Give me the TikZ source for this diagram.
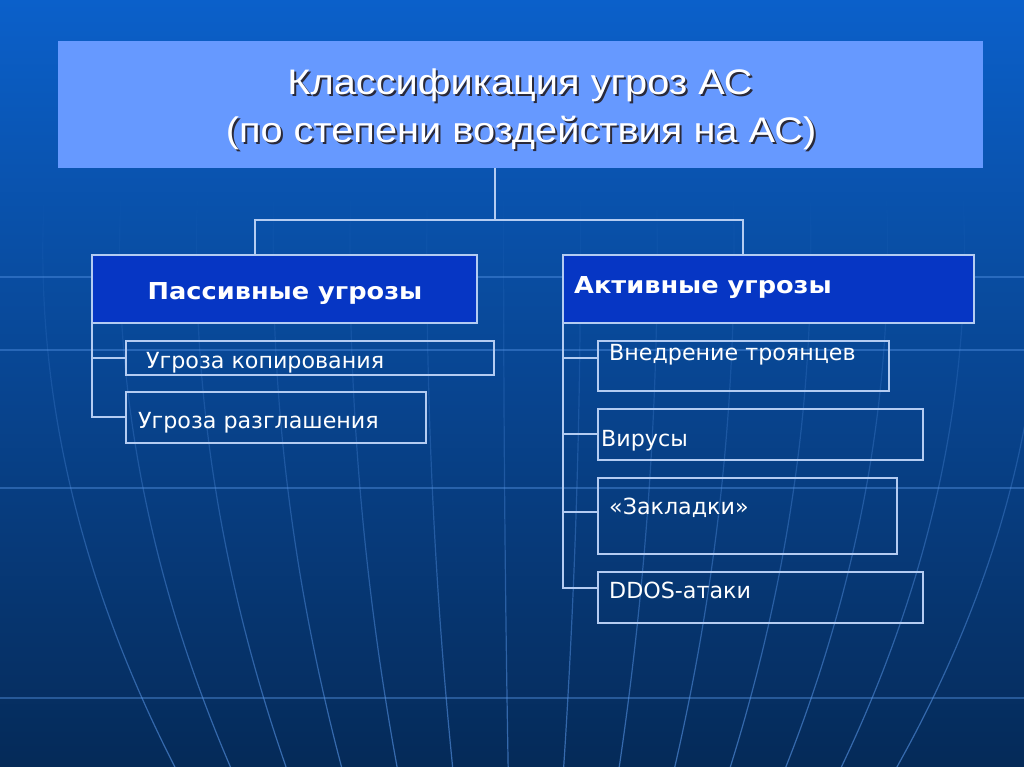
\documentclass[tikz,border=0pt]{standalone}
\usepackage{fontspec}
\setmainfont{Liberation Sans}
\newfontfamily\itemfont{DejaVu Sans}
\usetikzlibrary{fadings}
\definecolor{bgtop}{HTML}{0B60CA}
\definecolor{bgmid}{HTML}{0A4CA4}
\definecolor{bgbot}{HTML}{052A58}
\definecolor{titlefill}{HTML}{6699FF}
\definecolor{headfill}{HTML}{0636C4}
\definecolor{edgec}{HTML}{B4CCF2}
\definecolor{gridc}{HTML}{5A98EA}
\definecolor{shadowc}{HTML}{2A2A3A}
\newcommand{\wide}[1]{\scalebox{1.12}[1]{#1}}
\newcommand{\hwide}[1]{\scalebox{1.1}[1]{#1}}
\begin{document}
\begin{tikzpicture}[x=1pt,y=-1pt,
  box/.style={draw=edgec, line width=1.3pt, anchor=north west, inner sep=0pt, outer sep=0pt},
  conn/.style={draw=edgec, line width=1.3pt},
  gridline/.style={draw=gridc, line width=1.2pt, opacity=0.6},
  titletext/.style={text=white, inner sep=0pt, font=\fontsize{35.5}{42}\selectfont},
  titleshadow/.style={text=shadowc, inner sep=0pt, font=\fontsize{35.5}{42}\selectfont},
  headtext/.style={text=white, inner sep=0pt, font=\itemfont\bfseries\fontsize{23.3}{28}\selectfont},
  itemtext/.style={text=white, inner sep=0pt, anchor=base west, font=\itemfont\fontsize{22.2}{26}\selectfont}]
\useasboundingbox (0,0) rectangle (1024,767);
\shade[top color=bgtop, middle color=bgmid, bottom color=bgbot] (0,0) rectangle (1024,767);
% background grid
\foreach \yy in {277,350,488,698} {\draw[gridline, opacity=0.4] (0,\yy) -- (1024,\yy);}
\foreach \k in {0,...,13} {
  \pgfmathsetmacro{\dd}{-466+75*\k}
  \draw[gridline, path fading=north] plot[domain=190:767, samples=25, variable=\yv, smooth]
     ({520 + 1.024*\dd*(1-0.277*((\yv-250)/517)^2)}, {\yv});
}
% title
\node[box, draw=none, fill=titlefill, minimum width=925pt, minimum height=127pt] (title) at (58,41) {};
\node[titleshadow, anchor=base] (t1s) at (522,97) {\wide{Классификация угроз АС}};
\node[titleshadow, anchor=base] (t2s) at (523,145) {\wide{(по степени воздействия на АС)}};
\node[titletext, anchor=base] (t1) at (520,95) {\wide{Классификация угроз АС}};
\node[titletext, anchor=base] (t2) at (521,143) {\wide{(по степени воздействия на АС)}};
% headers
\node[box, fill=headfill, minimum width=385pt, minimum height=68pt] (passive) at (92,255) {};
\node[box, fill=headfill, minimum width=411pt, minimum height=68pt] (active) at (563,255) {};
\node[headtext, anchor=base] (ptext) at (285,299) {\hwide{Пассивные угрозы}};
\node[headtext, anchor=base west] (atext) at (574,293) {\hwide{Активные угрозы}};
% passive items
\node[box, minimum width=368pt, minimum height=34pt] (c1) at (126,341) {};
\node[box, minimum width=300pt, minimum height=51pt] (c2) at (126,392) {};
\node[itemtext] (c1t) at (146,368) {Угроза копирования};
\node[itemtext] (c2t) at (138,428) {Угроза разглашения};
% active items
\node[box, minimum width=291pt, minimum height=50pt] (d1) at (598,341) {};
\node[box, minimum width=325pt, minimum height=51pt] (d2) at (598,409) {};
\node[box, minimum width=299pt, minimum height=76pt] (d3) at (598,478) {};
\node[box, minimum width=325pt, minimum height=51pt] (d4) at (598,572) {};
\node[itemtext] (d1t) at (609,360) {Внедрение троянцев};
\node[itemtext] (d2t) at (601,446) {Вирусы};
\node[itemtext] (d3t) at (609,514) {«Закладки»};
\node[itemtext] (d4t) at (609,598) {DDOS-атаки};
% connectors
\coordinate (tj) at (495,220);
\coordinate (pj) at (255,220);
\coordinate (aj) at (743,220);
\draw[conn] (title.south -| tj) -- (tj);
\draw[conn] (passive.north -| pj) -- (pj) -- (aj) -- (active.north -| aj);
\coordinate (pb1) at (92,358);
\coordinate (pb2) at (92,417);
\draw[conn] (passive.south west) -- (pb2) -- (pb2 -| c2.west);
\draw[conn] (pb1) -- (pb1 -| c1.west);
\coordinate (ab1) at (563,358);
\coordinate (ab2) at (563,434);
\coordinate (ab3) at (563,512);
\coordinate (ab4) at (563,588);
\draw[conn] (active.south west) -- (ab4) -- (ab4 -| d4.west);
\draw[conn] (ab1) -- (ab1 -| d1.west);
\draw[conn] (ab2) -- (ab2 -| d2.west);
\draw[conn] (ab3) -- (ab3 -| d3.west);
\end{tikzpicture}
\end{document}
